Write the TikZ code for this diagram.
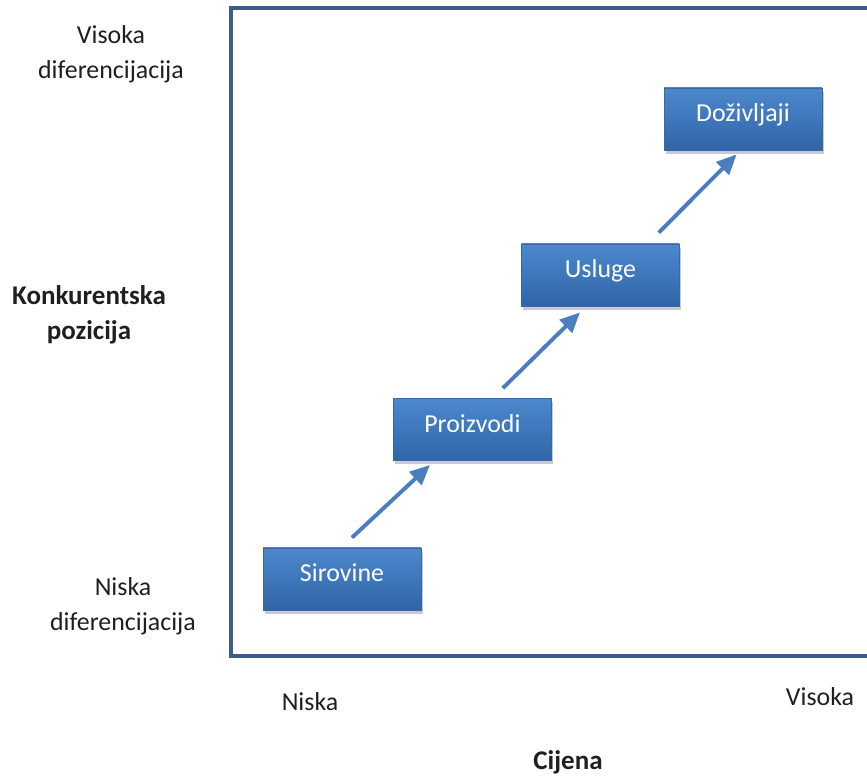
\documentclass[tikz,border=0pt]{standalone}
\usepackage{fontspec}
\setmainfont{Carlito}
\usepackage{xcolor}
\usetikzlibrary{arrows.meta, shadows}
\definecolor{frameblue}{RGB}{60,92,138}
\definecolor{boxtop}{RGB}{76,136,204}
\definecolor{boxbottom}{RGB}{48,101,168}
\definecolor{boxedge}{RGB}{56,104,166}
\definecolor{arrowblue}{RGB}{74,126,192}

\begin{document}
\begin{tikzpicture}[
  every node/.style = {font=\fontsize{18.4}{25}\selectfont, text=black!88},
  stage/.style = {draw=boxedge, line width=0.6pt, top color=boxtop, bottom color=boxbottom,
    minimum width=3.95cm, minimum height=1.55cm, text=white, text height=0.7em, text depth=0.35em,
    drop shadow={shadow xshift=0.04cm, shadow yshift=-0.09cm, opacity=0.35, fill=black!60}},
  axislabel/.style = {align=center},
  keylabel/.style = {align=center, font=\fontsize{19.2}{25}\selectfont\bfseries},
  climb/.style = {-{Triangle[length=5mm, width=4.4mm]}, draw=arrowblue, line width=2.8pt},
  >=Latex
]
  \useasboundingbox (0,0) rectangle (21.675,19.4);
  \draw[frameblue, line width=2.5pt] (22,19.2) -- (5.775,19.2) -- (5.775,3.0) -- (22,3.0);

  \node[axislabel] (dhigh) at (2.775,18.04) {Visoka\\diferencijacija};
  \node[keylabel] (pos) at (2.225,11.53) {Konkurentska\\pozicija};
  \node[axislabel] (dlow) at (3.075,4.25) {Niska\\diferencijacija};
  \node[axislabel] (plow) at (7.75,1.85) {Niska};
  \node[axislabel] (phigh) at (20.5,1.975) {Visoka};
  \node[keylabel] (price) at (14.2,0.33) {Cijena};

  \node[stage] (sir) at (8.55,4.925) {Sirovine};
  \node[stage] (pro) at (11.81,8.66) {Proizvodi};
  \node[stage] (usl) at (15.01,12.525) {Usluge};
  \node[stage] (dozi) at (18.575,16.425) {Doživljaji};

  \draw[climb] ([shift={(0.25,0.25)}]sir.north) -- ([shift={(0.925,-0.1)}]pro.south west);
  \draw[climb] ([shift={(0.76,0.25)}]pro.north) -- ([shift={(1.475,-0.15)}]usl.south west);
  \draw[climb] ([shift={(1.46,0.275)}]usl.north) -- ([shift={(1.825,-0.1)}]dozi.south west);
\end{tikzpicture}
\end{document}
